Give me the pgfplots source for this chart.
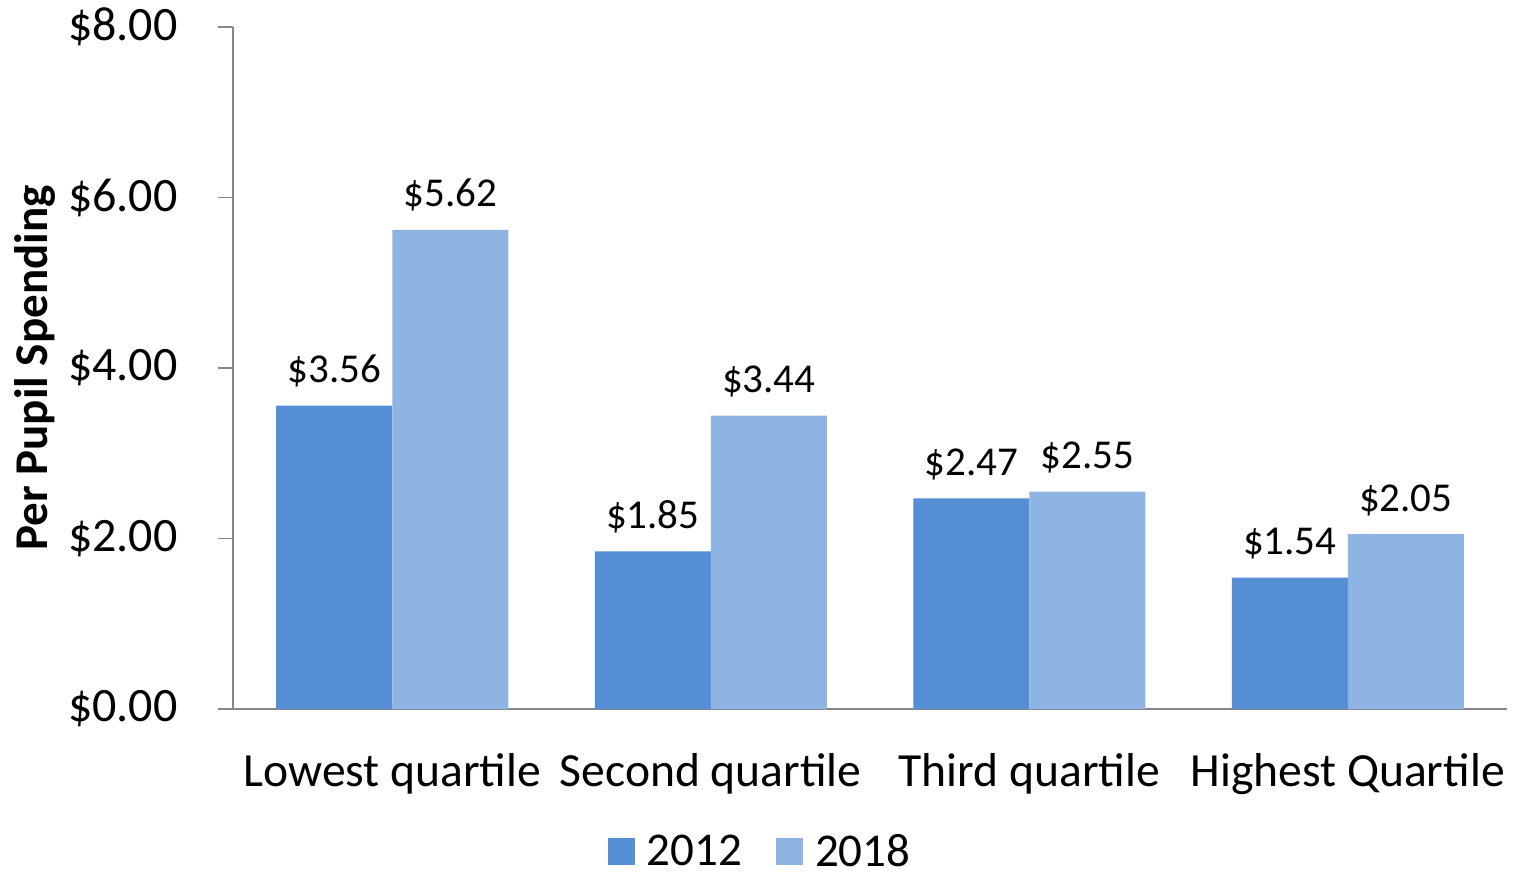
\documentclass[border=0pt]{standalone}
\usepackage{fontspec}
\setmainfont{Carlito}
\usepackage{pgfplots}
\pgfplotsset{compat=1.18}
\definecolor{cA}{HTML}{558ED5}
\definecolor{cB}{HTML}{8EB4E3}
\definecolor{axgray}{HTML}{868686}
\begin{document}
\begin{tikzpicture}
\useasboundingbox (-116.5pt,-81.5pt) rectangle (642.5pt,354.5pt);
\begin{axis}[
  scale only axis, width=637pt, height=341pt,
  ybar=0pt, bar width=58pt,
  xmin=-0.5, xmax=3.5, ymin=0, ymax=8,
  axis lines*=left,
  axis line style={draw=axgray, line width=0.8pt},
  xtick={0,1,2,3},
  xticklabels={Lowest quartile, Second quartile, Third quartile, Highest Quartile},
  x tick style={draw=none},
  extra x ticks={-0.5,0.5,1.5,2.5,3.5},
  extra x tick labels={},
  extra x tick style={tick style={draw=axgray, line width=0.8pt}, major tick length=6.5pt},
  ytick={0,2,4,6,8},
  y tick style={draw=axgray, line width=0.8pt},
  major tick length=7.5pt,
  tick align=outside,
  /pgf/number format/assume math mode=true,
  yticklabel={\$\pgfmathprintnumber[fixed,fixed zerofill,precision=2]{\tick}},
  yticklabel style={font=\fontsize{24}{28}\selectfont, xshift=-20pt, inner sep=0pt, anchor=east},
  xticklabel style={font=\fontsize{23.8}{28}\selectfont, yshift=-11pt},
  ylabel={Per Pupil Spending},
  ylabel style={font=\bfseries\fontsize{23.5}{27}\selectfont, at={(axis description cs:-0.1554,0.5)}, anchor=center},
  nodes near coords={\$\pgfmathprintnumber[fixed,fixed zerofill,precision=2]{\pgfplotspointmeta}},
  every node near coord/.append style={font=\fontsize{20.5}{24}\selectfont, black, inner sep=0pt, anchor=south, yshift=9pt},
  legend style={at={(0.4137,-0.209)}, anchor=center, draw=none, legend columns=2,
    font=\fontsize{23.5}{27}\selectfont, inner sep=0pt, fill=none,
    nodes={inner sep=1pt},
    /tikz/every odd column/.append style={column sep=5pt},
    /tikz/every even column/.append style={column sep=16pt}},
  legend image code/.code={\fill[#1] (0pt,-6.75pt) rectangle (13.5pt,6.75pt);},
]
\addplot[fill=cA, draw=none] coordinates {(0,3.56) (1,1.85) (2,2.47) (3,1.54)};
\addplot[fill=cB, draw=none] coordinates {(0,5.62) (1,3.44) (2,2.55) (3,2.05)};
\legend{2012, 2018}
\end{axis}
\end{tikzpicture}
\end{document}
